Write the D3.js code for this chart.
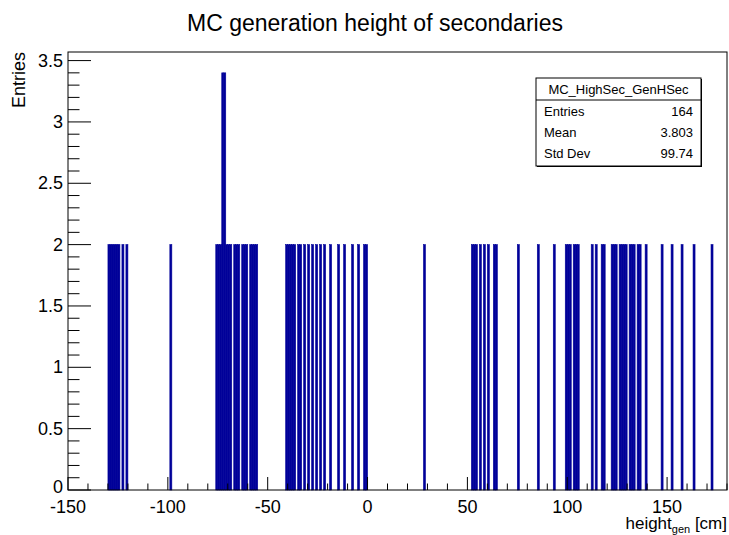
<!DOCTYPE html>
<html>
<head>
<meta charset="UTF-8">
<title>MC generation height of secondaries</title>
<script src="https://cdn.jsdelivr.net/npm/d3@7"></script>
<style>
body { margin: 0; background: #fff; }
text { font-family: "Liberation Sans", Arial, sans-serif; }
</style>
</head>
<body>
<div id="chart"></div>
<script>
// histogram bins: lower edge (cm), bin width 1 cm
const binStart = [
  -130, -129, -128, -127, -126, -125, -123, -121, -99,
  -76, -75, -74, -73, -72, -71, -70, -69,
  -67, -66, -65, -63, -62, -61, -59, -58, -57, -56,
  -41, -40, -39, -38, -37, -35, -34, -32, -30, -28, -26, -24,
  -22, -19, -15, -12, -8, -5, -2, -1,
  28,
  52, 53, 54, 56, 58, 60, 63, 64,
  75, 85, 93, 99,
  100, 101, 103, 104, 105,
  112, 114, 117, 118,
  122, 123, 124, 126, 127, 128, 129,
  131, 132, 133, 135, 136,
  139, 147, 152, 157, 163, 172
];
const binCount = binStart.map(function(b) { return (b === -73 || b === -72) ? 3.4 : 2; });
const binWidth = 1;

const xTicks = [-150, -100, -50, 0, 50, 100, 150];
const yTicks = [0, 0.5, 1, 1.5, 2, 2.5, 3, 3.5];

const statsTitle = "MC_HighSec_GenHSec";
const statsRows = [["Entries", "164"], ["Mean", "3.803"], ["Std Dev", "99.74"]];

const W = 729, H = 535;
const frame = {left: 68, right: 727, top: 52, bottom: 490};
const blue = "#000099";

const svg = d3.select("#chart").append("svg")
  .attr("width", W).attr("height", H);

const x = d3.scaleLinear().domain([-150, 180]).range([frame.left, frame.right]);
const y = d3.scaleLinear().domain([0, 3.57]).range([frame.bottom, frame.top]);

// title
svg.append("text")
  .attr("x", 375).attr("y", 31)
  .attr("text-anchor", "middle")
  .attr("font-size", "23px")
  .text("MC generation height of secondaries");

// bars
svg.selectAll("rect.bin")
  .data(binStart.map(function(b, i) { return {x0: b, v: binCount[i]}; }))
  .enter().append("rect")
    .attr("class", "bin")
    .attr("x", function(d) { return x(d.x0); })
    .attr("width", function(d) { return x(d.x0 + binWidth) - x(d.x0); })
    .attr("y", function(d) { return y(d.v); })
    .attr("height", function(d) { return y(0) - y(d.v); })
    .attr("fill", blue)
    .attr("stroke", blue)
    .attr("stroke-width", 0.6);

// frame box
svg.append("rect")
  .attr("x", frame.left).attr("y", frame.top)
  .attr("width", frame.right - frame.left)
  .attr("height", frame.bottom - frame.top)
  .attr("fill", "none").attr("stroke", "#000").attr("stroke-width", 1);

// x axis ticks (inside, pointing up)
const xAxis = svg.append("g").attr("stroke", "#000").attr("stroke-width", 1);
d3.range(-150, 181, 10).forEach(function(v) {
  const major = v % 50 === 0;
  xAxis.append("line")
    .attr("x1", x(v)).attr("x2", x(v))
    .attr("y1", frame.bottom).attr("y2", frame.bottom - (major ? 13 : 6.5));
});
svg.selectAll("text.xlab")
  .data(xTicks)
  .enter().append("text")
    .attr("class", "xlab")
    .attr("x", function(d) { return x(d); })
    .attr("y", 513)
    .attr("text-anchor", "middle")
    .attr("font-size", "18px")
    .text(function(d) { return d; });

// y axis ticks (inside, pointing right)
const yAxis = svg.append("g").attr("stroke", "#000").attr("stroke-width", 1);
d3.range(0, 36, 1).forEach(function(k) {
  const v = k / 10;
  const major = k % 5 === 0;
  yAxis.append("line")
    .attr("x1", frame.left).attr("x2", frame.left + (major ? 23 : 11.5))
    .attr("y1", y(v)).attr("y2", y(v));
});
svg.selectAll("text.ylab")
  .data(yTicks)
  .enter().append("text")
    .attr("class", "ylab")
    .attr("x", 63)
    .attr("y", function(d) { return y(d) + (d === 0 ? 3 : 6); })
    .attr("text-anchor", "end")
    .attr("font-size", "18px")
    .text(function(d) { return d; });

// axis titles
svg.append("text")
  .attr("transform", "translate(25," + frame.top + ") rotate(-90)")
  .attr("text-anchor", "end")
  .attr("font-size", "18px")
  .text("Entries");

const xt = svg.append("text")
  .attr("x", 727).attr("y", 529)
  .attr("text-anchor", "end")
  .attr("font-size", "17px");
xt.append("tspan").text("height");
xt.append("tspan").attr("font-size", "11px").attr("dy", 4).text("gen");
xt.append("tspan").attr("dy", -4).text(" [cm]");

// stats box
const sb = {x: 536, y: 78, w: 165, h: 88};
svg.append("rect")
  .attr("x", sb.x + 1).attr("y", sb.y + 1)
  .attr("width", sb.w).attr("height", sb.h)
  .attr("fill", "#000");
svg.append("rect")
  .attr("x", sb.x).attr("y", sb.y)
  .attr("width", sb.w).attr("height", sb.h)
  .attr("fill", "#fff").attr("stroke", "#000").attr("stroke-width", 1);
svg.append("line")
  .attr("x1", sb.x).attr("x2", sb.x + sb.w)
  .attr("y1", sb.y + 22).attr("y2", sb.y + 22)
  .attr("stroke", "#000");
svg.append("text")
  .attr("x", sb.x + sb.w / 2).attr("y", sb.y + 16)
  .attr("text-anchor", "middle")
  .attr("font-size", "13px")
  .text(statsTitle);
statsRows.forEach(function(r, i) {
  const ty = sb.y + 38 + i * 21;
  svg.append("text").attr("x", sb.x + 8).attr("y", ty)
    .attr("font-size", "13px").text(r[0]);
  svg.append("text").attr("x", sb.x + sb.w - 8).attr("y", ty)
    .attr("text-anchor", "end").attr("font-size", "13px").text(r[1]);
});
</script>
</body>
</html>
